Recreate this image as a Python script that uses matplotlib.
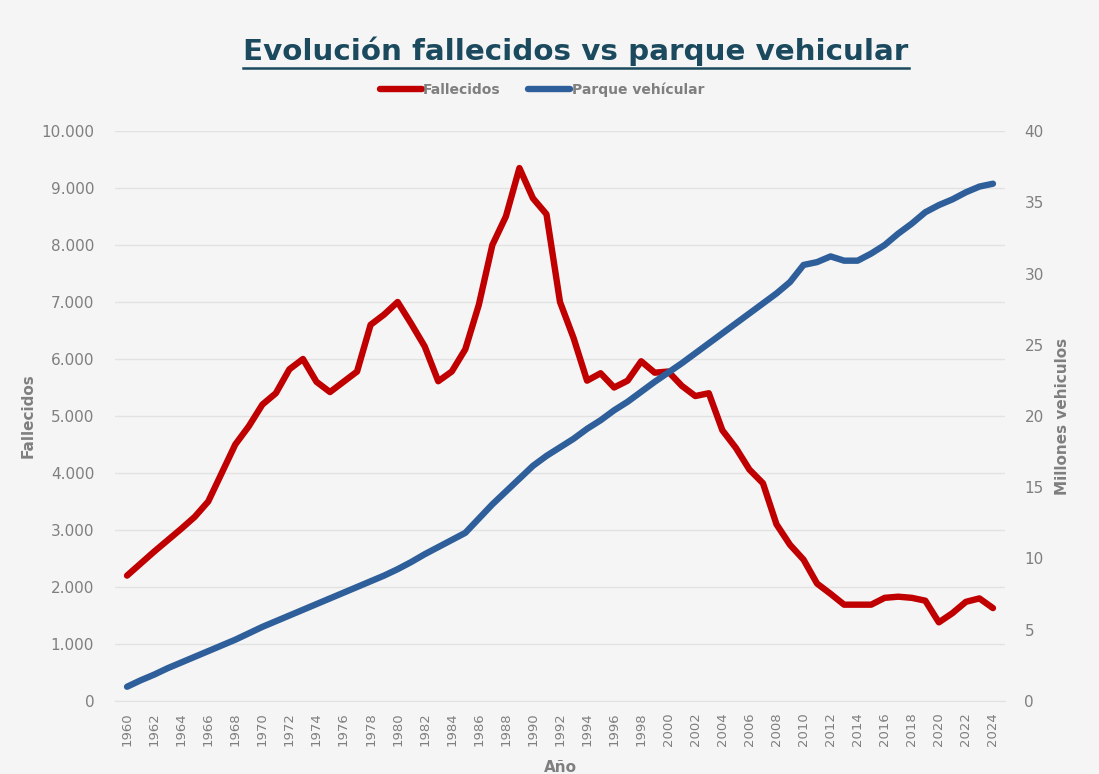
import matplotlib
matplotlib.use("Agg")
import matplotlib.pyplot as plt
from matplotlib.lines import Line2D

years = list(range(1960, 2025))
fallecidos = [2200, 2410, 2620, 2820, 3020, 3230, 3500, 4000, 4500, 4820,
              5200, 5400, 5820, 6000, 5600, 5420, 5600, 5780, 6600, 6780,
              7000, 6620, 6220, 5610, 5780, 6170, 6950, 8000, 8500, 9350,
              8820, 8540, 7000, 6370, 5620, 5750, 5500, 5620, 5960, 5760,
              5780, 5530, 5350, 5400, 4750, 4440, 4060, 3820, 3100, 2740,
              2480, 2060, 1880, 1690, 1690, 1690, 1810, 1830, 1810, 1760,
              1380, 1540, 1740, 1800, 1630]
parque = [1.0, 1.45, 1.85, 2.3, 2.7, 3.1, 3.5, 3.9, 4.3, 4.75,
          5.2, 5.6, 6.0, 6.4, 6.8, 7.2, 7.6, 8.0, 8.4, 8.8,
          9.25, 9.75, 10.3, 10.8, 11.3, 11.8, 12.8, 13.8, 14.7, 15.6,
          16.5, 17.2, 17.8, 18.4, 19.1, 19.7, 20.4, 21.0, 21.7, 22.4,
          23.05, 23.7, 24.4, 25.1, 25.8, 26.5, 27.2, 27.9, 28.6, 29.4,
          30.6, 30.8, 31.2, 30.9, 30.9, 31.4, 32.0, 32.8, 33.5, 34.3,
          34.8, 35.2, 35.7, 36.1, 36.3]
left_ticks = list(range(0, 10001, 1000))
left_labels = ["0", "1.000", "2.000", "3.000", "4.000", "5.000", "6.000",
               "7.000", "8.000", "9.000", "10.000"]
right_ticks = list(range(0, 41, 5))
xticks = list(range(1960, 2025, 2))

title = "Evolución fallecidos vs parque vehicular"
bg = "#f5f5f5"
grey = "#7f7f7f"
red = "#c00000"
blue = "#2e5f9a"
title_col = "#1b4a5e"

W, H = 1099, 774
fig = plt.figure(figsize=(W / 100, H / 100), dpi=100, facecolor=bg)
ax = fig.add_axes([115 / W, (H - 701) / H, (1005 - 115) / W, (701 - 131) / H])
ax.set_facecolor(bg)
ax2 = ax.twinx()

ax.plot(years, fallecidos, color=red, lw=4.6, solid_joinstyle="round",
        solid_capstyle="round", zorder=3, label="Fallecidos")
ax2.plot(years, parque, color=blue, lw=4.6, solid_joinstyle="round",
         solid_capstyle="round", zorder=3, label="Parque vehícular")

ax.set_xlim(1959.11, 2024.89)
ax.set_ylim(0, 10000)
ax2.set_ylim(0, 40)
ax.set_yticks(left_ticks)
ax.set_yticklabels(left_labels)
ax2.set_yticks(right_ticks)
ax.set_xticks(xticks)
ax.set_xticklabels([str(y) for y in xticks], rotation=90)

ax.grid(axis="y", color="#e2e2e2", lw=1.0)
ax.set_axisbelow(True)
for a in (ax, ax2):
    for s in a.spines.values():
        s.set_visible(False)
    a.tick_params(length=0, colors=grey, labelsize=11)
ax.spines["bottom"].set_visible(True)
ax.spines["bottom"].set_color("#e2e2e2")
ax.tick_params(axis="x", labelsize=9.5, pad=8)
ax.tick_params(axis="y", pad=15)
ax2.tick_params(axis="y", pad=14)

ax.set_ylabel("Fallecidos", color=grey, fontsize=11, fontweight="bold", labelpad=4)
ax2.set_ylabel("Millones vehiculos", color=grey, fontsize=11, fontweight="bold",
               labelpad=8)
ax.set_xlabel("Año", color=grey, fontsize=11, fontweight="bold", labelpad=10)

t = fig.text(576 / W, 1 - 51 / H, title, ha="center", va="center",
             fontsize=21.2, fontweight="bold", color=title_col, family="DejaVu Sans")
fig.canvas.draw()
bb = t.get_window_extent()
yline = bb.y0 - 2
fig.add_artist(Line2D([bb.x0 / W, bb.x1 / W], [yline / H, yline / H],
                      transform=fig.transFigure, color=title_col, lw=1.8))

handles = [Line2D([], [], color=red, lw=4.6, solid_capstyle="round"),
           Line2D([], [], color=blue, lw=4.6, solid_capstyle="round")]
fig.legend(handles, ["Fallecidos", "Parque vehícular"], loc="center",
           bbox_to_anchor=(542 / W, 1 - 90 / H), ncol=2, frameon=False,
           handlelength=3.0, handletextpad=0.1, columnspacing=2.0,
           prop={"weight": "bold", "size": 10}, labelcolor=grey)

fig.savefig("out.png", dpi=100, facecolor=bg)
